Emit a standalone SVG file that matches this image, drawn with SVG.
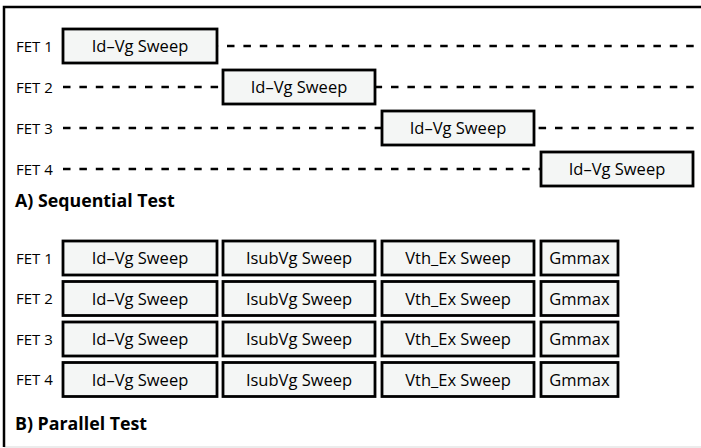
<svg xmlns="http://www.w3.org/2000/svg" width="701" height="448" viewBox="0 0 701 448">
  <style>
    .frame { fill: none; stroke: #000; stroke-width: 2.5; }
    .base { stroke: #d9d9d9; stroke-width: 1.2; }
    .lane { stroke: #000; stroke-width: 2.6; stroke-dasharray: 7.5 8.9; fill: none; }
    .box { fill: #f4f6f5; stroke: #000; stroke-width: 2.8; }
    .lbl { font-family: "Open Sans", "Noto Sans", sans-serif; font-size: 15px; fill: #000; }
    .txt { font-family: "Open Sans", "Noto Sans", sans-serif; font-size: 16.5px; fill: #000; text-anchor: middle; }
    .title { font-family: "Open Sans", "Noto Sans", sans-serif; font-size: 17.8px; font-weight: bold; fill: #000; }
  </style>

  <!-- outer frame: top and left edges, faint bottom rule -->
  <line class="base" x1="4" y1="447" x2="701" y2="447"/>
  <path class="frame" d="M701 7 H4 V447"/>

  <!-- timeline lanes of the sequential test -->
  <g id="connectors">
    <line class="lane" x1="63" y1="46" x2="701" y2="46"/>
    <line class="lane" x1="63" y1="87" x2="701" y2="87"/>
    <line class="lane" x1="63" y1="128" x2="701" y2="128"/>
    <line class="lane" x1="63" y1="169" x2="701" y2="169"/>
  </g>

  <!-- A) sequential test -->
  <g id="seq-labels">
    <text class="lbl" x="16" y="51.5">FET 1</text>
    <text class="lbl" x="16" y="92.5">FET 2</text>
    <text class="lbl" x="16" y="133.5">FET 3</text>
    <text class="lbl" x="16" y="174.5">FET 4</text>
  </g>
  <g id="seq-fet1"><rect class="box" x="63" y="29" width="154" height="34"/><text class="txt" x="140" y="52">Id–Vg Sweep</text></g>
  <g id="seq-fet2"><rect class="box" x="223" y="70" width="152" height="34"/><text class="txt" x="299" y="93">Id–Vg Sweep</text></g>
  <g id="seq-fet3"><rect class="box" x="382" y="111" width="152" height="34"/><text class="txt" x="458" y="134">Id–Vg Sweep</text></g>
  <g id="seq-fet4"><rect class="box" x="541" y="152" width="152" height="34"/><text class="txt" x="617" y="175">Id–Vg Sweep</text></g>
  <text class="title" x="15" y="207">A) Sequential Test</text>

  <!-- B) parallel test -->
  <g id="par-labels">
    <text class="lbl" x="16" y="263.5">FET 1</text>
    <text class="lbl" x="16" y="304">FET 2</text>
    <text class="lbl" x="16" y="344.5">FET 3</text>
    <text class="lbl" x="16" y="385">FET 4</text>
  </g>

  <g id="par-fet1">
    <rect class="box" x="63" y="241" width="154" height="34"/><text class="txt" x="140" y="264">Id–Vg Sweep</text>
    <rect class="box" x="223" y="241" width="152" height="34"/><text class="txt" x="299" y="264">IsubVg Sweep</text>
    <rect class="box" x="382" y="241" width="152" height="34"/><text class="txt" x="458" y="264">Vth_Ex Sweep</text>
    <rect class="box" x="541" y="241" width="77" height="34"/><text class="txt" x="579.5" y="264">Gmmax</text>
  </g>
  <g id="par-fet2">
    <rect class="box" x="63" y="281.5" width="154" height="34"/><text class="txt" x="140" y="304.5">Id–Vg Sweep</text>
    <rect class="box" x="223" y="281.5" width="152" height="34"/><text class="txt" x="299" y="304.5">IsubVg Sweep</text>
    <rect class="box" x="382" y="281.5" width="152" height="34"/><text class="txt" x="458" y="304.5">Vth_Ex Sweep</text>
    <rect class="box" x="541" y="281.5" width="77" height="34"/><text class="txt" x="579.5" y="304.5">Gmmax</text>
  </g>
  <g id="par-fet3">
    <rect class="box" x="63" y="322" width="154" height="34"/><text class="txt" x="140" y="345">Id–Vg Sweep</text>
    <rect class="box" x="223" y="322" width="152" height="34"/><text class="txt" x="299" y="345">IsubVg Sweep</text>
    <rect class="box" x="382" y="322" width="152" height="34"/><text class="txt" x="458" y="345">Vth_Ex Sweep</text>
    <rect class="box" x="541" y="322" width="77" height="34"/><text class="txt" x="579.5" y="345">Gmmax</text>
  </g>
  <g id="par-fet4">
    <rect class="box" x="63" y="362.5" width="154" height="34"/><text class="txt" x="140" y="385.5">Id–Vg Sweep</text>
    <rect class="box" x="223" y="362.5" width="152" height="34"/><text class="txt" x="299" y="385.5">IsubVg Sweep</text>
    <rect class="box" x="382" y="362.5" width="152" height="34"/><text class="txt" x="458" y="385.5">Vth_Ex Sweep</text>
    <rect class="box" x="541" y="362.5" width="77" height="34"/><text class="txt" x="579.5" y="385.5">Gmmax</text>
  </g>
  <text class="title" x="15" y="430">B) Parallel Test</text>
</svg>
